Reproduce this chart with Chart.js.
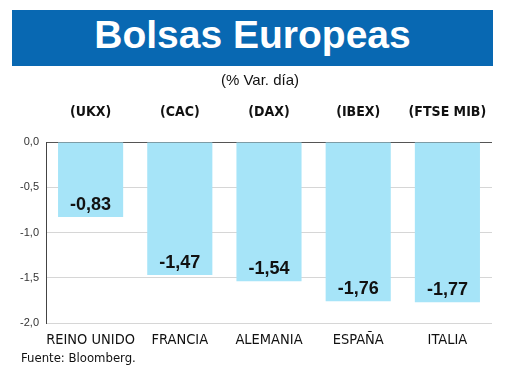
<!DOCTYPE html>
<html>
<head>
<meta charset="utf-8">
<script src="https://cdn.jsdelivr.net/npm/chart.js@4/dist/chart.umd.min.js"></script>
<style>
  html, body { margin:0; padding:0; background:#fff; }
  #wrap { position:relative; width:520px; height:390px; overflow:hidden; }
  #c { position:absolute; left:0; top:0; }
  #title { position:absolute; left:12px; top:10px; width:481px; height:56px; background:#0868b2;
    color:#fff; font:bold 39px "Liberation Sans", Arial, sans-serif; line-height:49px; text-align:center; }
  #sub { position:absolute; left:0; width:520px; top:71px; text-align:center; font:15px "Liberation Sans", Arial, sans-serif; line-height:17px; color:#111; }
  #src { position:absolute; left:21px; top:350px; font:14px "Liberation Sans", sans-serif; line-height:16px; color:#111; white-space:nowrap; transform-origin:0 0; }
</style>
</head>
<body>
<div id="wrap">
  <canvas id="c" width="520" height="390"></canvas>
  <div id="title">Bolsas Europeas</div>
  <div id="sub">(% Var. día)</div>
  <div id="src">Fuente: Bloomberg.</div>
</div>
<script>
const categories = ["REINO UNIDO", "FRANCIA", "ALEMANIA", "ESPAÑA", "ITALIA"];
const tickers = ["(UKX)", "(CAC)", "(DAX)", "(IBEX)", "(FTSE MIB)"];
const values = [-0.83, -1.47, -1.54, -1.76, -1.77];
const yTicks = [0, -0.5, -1, -1.5, -2];

const fmt = v => v.toFixed(2).replace('.', ',');

// find an installed condensed font, if any
function hasFont(name) {
  const cv = document.createElement('canvas').getContext('2d');
  const s = 'REINO UNIDO ESPAÑA mmmwwwiii 0123';
  cv.font = '40px monospace'; const a = cv.measureText(s).width;
  cv.font = '40px serif'; const b = cv.measureText(s).width;
  cv.font = '40px "' + name + '", monospace'; const a2 = cv.measureText(s).width;
  cv.font = '40px "' + name + '", serif'; const b2 = cv.measureText(s).width;
  return a !== a2 || b !== b2;
}
const condCandidates = ["Liberation Sans Narrow", "Arial Narrow", "DejaVu Sans Condensed"];
let condFont = null;
for (const f of condCandidates) { if (hasFont(f)) { condFont = f; break; } }
const narrowFam = condFont ? '"' + condFont + '", "Liberation Sans", sans-serif' : '"Liberation Sans", sans-serif';
const k = condFont ? 1 : 0.95;

const valueLabels = {
  id: 'valueLabels',
  afterDatasetsDraw(chart) {
    const ctx = chart.ctx;
    const meta = chart.getDatasetMeta(0);
    ctx.save();
    ctx.font = 'bold 18px "Liberation Sans", Arial, sans-serif';
    ctx.fillStyle = '#111';
    ctx.textAlign = 'center';
    ctx.textBaseline = 'middle';
    meta.data.forEach((bar, i) => {
      ctx.fillText(fmt(values[i]), bar.x, bar.y - 12);
    });
    ctx.restore();
  }
};

function noPad(s) { s.paddingLeft = 0; s.paddingRight = 0; }

new Chart(document.getElementById('c'), {
  type: 'bar',
  data: {
    labels: categories,
    datasets: [{
      data: values,
      backgroundColor: '#a6e4f8',
      borderWidth: 0,
      barPercentage: 0.73,
      categoryPercentage: 1.0
    }]
  },
  options: {
    responsive: false,
    animation: false,
    layout: { padding: { left: 0, right: 28, top: 102, bottom: 37 } },
    plugins: { legend: { display: false }, tooltip: { enabled: false } },
    scales: {
      x: {
        type: 'category',
        position: 'bottom',
        grid: { display: false, drawTicks: false },
        border: { display: false },
        ticks: { padding: 9, color: '#111', maxRotation: 0, minRotation: 0, autoSkip: false,
          font: { family: narrowFam, size: Math.round(14.5 * k * 2) / 2 } },
        afterFit(s) { s.height = 30; noPad(s); }
      },
      x2: {
        type: 'category',
        position: 'top',
        labels: tickers,
        grid: { display: false, drawTicks: false },
        border: { display: false },
        ticks: { padding: 21, color: '#111', maxRotation: 0, minRotation: 0, autoSkip: false,
          font: { family: narrowFam, size: Math.round(14 * k * 2) / 2, weight: 'bold' } },
        afterFit(s) { s.height = 40; noPad(s); }
      },
      y: {
        min: -2, max: 0,
        afterBuildTicks(s) { s.ticks = yTicks.map(v => ({ value: v })); },
        ticks: {
          padding: 7, color: '#333',
          font: { family: '"Liberation Sans", Arial, sans-serif', size: 11 },
          callback: v => v.toFixed(1).replace('.', ',')
        },
        grid: {
          drawTicks: false,
          color: ctx => (ctx.tick && ctx.tick.value === 0) ? '#555' : '#d6d6d6',
          lineWidth: 1
        },
        border: { display: true, color: '#444', width: 1 },
        afterFit(s) { s.width = 46; s.paddingTop = 0; s.paddingBottom = 0; }
      }
    }
  },
  plugins: [valueLabels]
});

const src = document.getElementById('src');
if (condFont) { src.style.fontFamily = narrowFam; src.style.fontSize = '13px'; }
else { src.style.transform = 'scaleX(0.9)'; src.style.fontSize = '14px'; }
</script>
</body>
</html>
